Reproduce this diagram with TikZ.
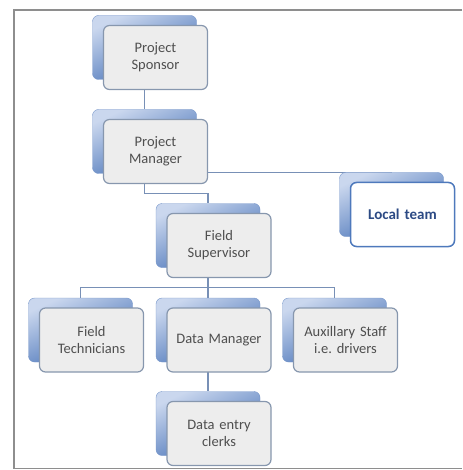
\documentclass[tikz,border=0pt]{standalone}
\usepackage{fontspec}
\setmainfont{Carlito}
\frenchspacing
\usetikzlibrary{calc,backgrounds}
\definecolor{txtgrey}{HTML}{4F4F4F}
\definecolor{frontfill}{HTML}{EDEDED}
\definecolor{frontline}{HTML}{8797AE}
\definecolor{backlight}{HTML}{CAD7EE}
\definecolor{backdark}{HTML}{3A68B2}
\definecolor{conn}{HTML}{7890B6}
\definecolor{framegrey}{HTML}{8E8E8E}
\definecolor{localline}{HTML}{4E79BC}
\definecolor{localtxt}{HTML}{2C4A84}
\tikzset{
  backbox/.style={rectangle, rounded corners=6pt, minimum width=104pt, minimum height=64pt,
    inner sep=0pt, top color=backlight, bottom color=backdark, shading angle=25,
    draw=backdark!70, line width=0.4pt},
  frontbox/.style={rectangle, rounded corners=6pt, minimum width=104pt, minimum height=64pt,
    inner sep=2pt, fill=frontfill, draw=frontline, line width=1.2pt, text=txtgrey,
    align=center, font=\fontsize{14.5pt}{17pt}\selectfont, text width=100pt},
  localbox/.style={frontbox, fill=white, draw=localline, line width=1.5pt, text=localtxt,
    font=\fontsize{15pt}{17pt}\selectfont\bfseries},
  connector/.style={draw=conn, line width=1.2pt},
}
\begin{document}
\begin{tikzpicture}[x=1pt,y=-1pt]
\useasboundingbox (0,0) rectangle (462,470);
\draw[framegrey, line width=1.6pt] (462,10) -- (14,10) -- (14,468.5) -- (462,468.5);
% back boxes
\node[backbox] (bS)   at (144.5,47.5) {};
\node[backbox] (bPM)  at (144.5,141.5) {};
\node[backbox] (bLT)  at (391.5,204.5) {};
\node[backbox] (bFS)  at (208,235.5) {};
\node[backbox] (bFT)  at (80.5,330) {};
\node[backbox] (bDM)  at (208,330) {};
\node[backbox] (bAX)  at (334.5,330) {};
\node[backbox] (bDE)  at (208,423.5) {};
% front boxes
\node[frontbox] (S)  at (155.5,57.5) {Project\\Sponsor};
\node[frontbox] (PM) at (155.5,151.5) {Project\\Manager};
\node[localbox] (LT) at (402.5,214.5) {Local team};
\node[frontbox] (FS) at (219,245.5) {Field\\Supervisor};
\node[frontbox] (FT) at (91.5,340) {Field\\Technicians};
\node[frontbox] (DM) at (219,340) {Data Manager};
\node[frontbox] (AX) at (345.5,340) {Auxillary Staff\\i.e. drivers};
\node[frontbox] (DE) at (219,433.5) {Data entry\\clerks};
% connectors
\begin{scope}[on background layer]
\draw[connector] (bS.south) -- (bPM.north);
\draw[connector] (bPM.south) -- ++(0,20) -| (bFS.north);
\draw[connector] (bPM.center |- bLT.north) -- (bLT.north);
\draw[connector] (bFS.south) -- ++(0,19.5) coordinate (j);
\draw[connector] (j) -| (bFT.north);
\draw[connector] (j) -| (bAX.north);
\draw[connector] (j) -- (bDM.north);
\draw[connector] (bDM.south) -- (bDE.north);
\end{scope}
\end{tikzpicture}
\end{document}
